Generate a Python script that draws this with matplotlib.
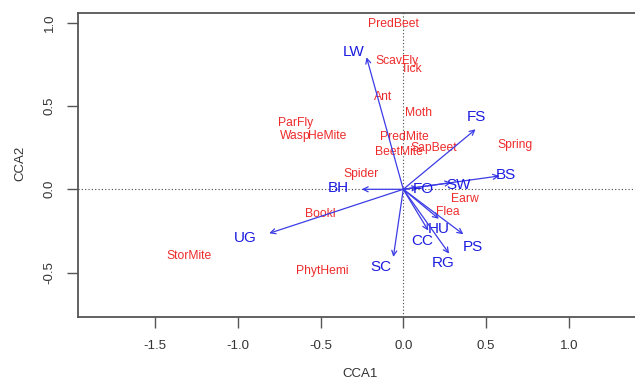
import matplotlib.pyplot as plt

# species scores (red labels)
species = ["PredBeet", "ScavFly", "Tick", "Ant", "Moth", "ParFly", "Wasp", "HeMite",
           "PredMite", "BeetMite", "SapBeet", "Spring", "Spider", "Earw", "Flea",
           "Bookl", "StorMite", "PhytHemi"]
sp_x = [-0.06, -0.04, 0.05, -0.121, 0.091, -0.65, -0.653, -0.457,
        0.004, -0.024, 0.181, 0.675, -0.257, 0.373, 0.268,
        -0.50, -1.293, -0.49]
sp_y = [0.99, 0.77, 0.72, 0.556, 0.456, 0.396, 0.32, 0.32,
        0.316, 0.222, 0.25, 0.266, 0.092, -0.058, -0.134,
        -0.148, -0.40, -0.49]

# environmental biplot arrows (blue)
env = ["LW", "FS", "BS", "SW", "FO", "BH", "UG", "SC", "CC", "HU", "PS", "RG"]
env_x = [-0.222, 0.437, 0.58, 0.29, 0.09, -0.251, -0.81, -0.06, 0.151, 0.215, 0.363, 0.277]
env_y = [0.792, 0.36, 0.08, 0.04, 0.01, 0.0, -0.264, -0.406, -0.248, -0.177, -0.27, -0.386]
lab_x = [-0.302, 0.443, 0.62, 0.332, 0.119, -0.393, -0.957, -0.135, 0.116, 0.216, 0.421, 0.239]
lab_y = [0.826, 0.432, 0.086, 0.026, 0.0, 0.01, -0.294, -0.464, -0.308, -0.238, -0.348, -0.444]

plt.rcParams['font.family'] = ['Liberation Sans', 'DejaVu Sans']

fig = plt.figure(figsize=(6.35, 3.82), dpi=100)
ax = fig.add_axes([0.1224, 0.1694, 0.8776, 0.7958])
ax.set_xlim(-1.967, 1.40)
ax.set_ylim(-0.768, 1.056)

ax.axhline(0, color='#444444', lw=0.8, ls=(0, (1, 2)))
ax.axvline(0, color='#444444', lw=0.8, ls=(0, (1, 2)))

for name, x, y in zip(species, sp_x, sp_y):
    ax.text(x, y, name, color='#ee2c2c', fontsize=8.7, ha='center', va='center')

for name, x, y, tx, ty in zip(env, env_x, env_y, lab_x, lab_y):
    ax.annotate('', xy=(x, y), xytext=(0, 0),
                arrowprops=dict(arrowstyle='->', color='#3c3ce6', lw=0.9,
                                shrinkA=0, shrinkB=0, mutation_scale=9))
    ax.text(tx, ty, name, color='#1c1ce0', fontsize=11, ha='center', va='center')

for s in ['left', 'top', 'bottom']:
    ax.spines[s].set_color('#555555')
    ax.spines[s].set_linewidth(1.3)
ax.spines['right'].set_visible(False)

ax.set_xticks([-1.5, -1.0, -0.5, 0.0, 0.5, 1.0])
ax.set_xticklabels(['-1.5', '-1.0', '-0.5', '0.0', '0.5', '1.0'])
ax.set_yticks([-0.5, 0.0, 0.5, 1.0])
ax.set_yticklabels(['-0.5', '0.0', '0.5', '1.0'], rotation=90, va='center')
ax.tick_params(direction='out', length=8, width=1, color='#555555',
               labelsize=9.5, labelcolor='#333333', pad=8)

fig.text(360 / 635, 1 - 374 / 382, 'CCA1', ha='center', va='center',
         fontsize=9.5, color='#333333')
fig.text(20 / 635, 1 - 163 / 382, 'CCA2', ha='center', va='center',
         fontsize=9.5, color='#333333', rotation=90)

fig.savefig('out.png', dpi=100)
